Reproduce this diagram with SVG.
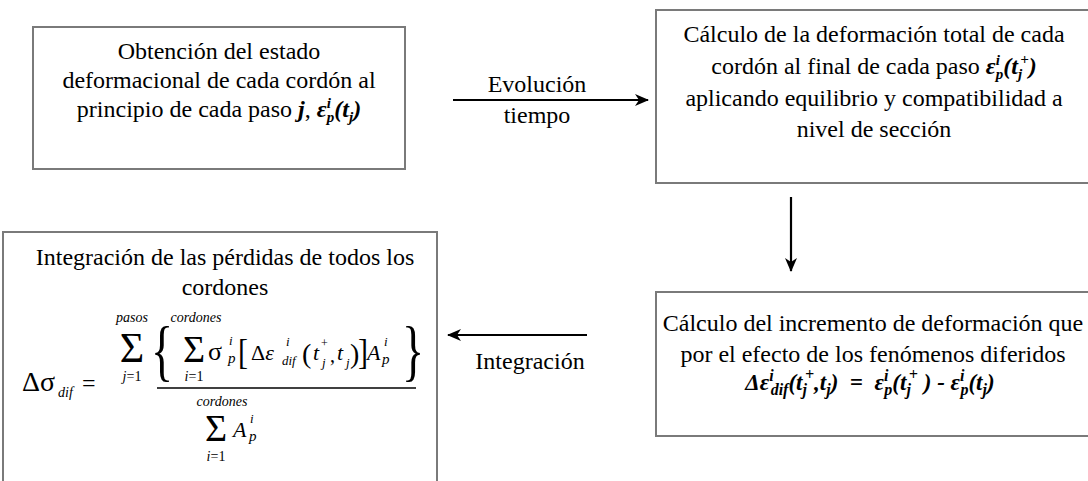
<svg xmlns="http://www.w3.org/2000/svg" width="1088" height="481" viewBox="0 0 1088 481">
<defs>
<style>
.box{fill:#fff;stroke:#7a7a7a;stroke-width:2}
.conn{stroke:#000;stroke-width:2.2;fill:none}
</style>
<marker id="ah" markerWidth="14" markerHeight="12" refX="13" refY="6" orient="auto" markerUnits="userSpaceOnUse">
<path d="M0,0 L14,6 L0,12 L4,6 Z" fill="#000"/>
</marker>
</defs>
<rect width="1088" height="481" fill="#fff"/>

<g id="connectors">
<line class="conn" x1="453" y1="100" x2="648" y2="100" marker-end="url(#ah)"/>
<line class="conn" x1="791" y1="197" x2="791" y2="271" marker-end="url(#ah)"/>
<line class="conn" x1="587" y1="335" x2="448" y2="335" marker-end="url(#ah)"/>
</g>
<g id="connector-labels" font-family="Liberation Serif" font-size="24" text-anchor="middle" fill="#000">
<text font-family="Liberation Serif" x="537" y="92">Evolución</text>
<text font-family="Liberation Serif" x="537" y="123">tiempo</text>
<text font-family="Liberation Serif" x="530" y="369">Integración</text>
</g>

<g id="node-obtencion" font-family="Liberation Serif" font-size="24" text-anchor="middle" fill="#000">
<rect class="box" x="33" y="27" width="372" height="142"/>
<text font-family="Liberation Serif" x="219" y="59">Obtención del estado</text>
<text font-family="Liberation Serif" x="219" y="88">deformacional de cada cordón al</text>
<text font-family="Liberation Serif" x="219" y="117">principio de cada paso <tspan font-weight="bold" font-style="italic">j</tspan>, <tspan font-weight="bold" font-style="italic">ε<tspan font-size="15" dy="-9">i</tspan><tspan font-size="15" dx="-4" dy="14">p</tspan><tspan dy="-5">(t</tspan><tspan font-size="15" dy="5">j</tspan><tspan dy="-5">)</tspan></tspan></text>
</g>

<g id="node-calculo-total" font-family="Liberation Serif" font-size="24" text-anchor="middle" fill="#000">
<rect class="box" x="656" y="10" width="440" height="173"/>
<text font-family="Liberation Serif" x="874" y="42">Cálculo de la deformación total de cada</text>
<text font-family="Liberation Serif" x="874" y="74">cordón al final de cada paso <tspan font-weight="bold" font-style="italic">ε<tspan font-size="15" dy="-9">i</tspan><tspan font-size="15" dx="-4" dy="14">p</tspan><tspan dy="-5">(t</tspan><tspan font-size="15" dy="5">j</tspan><tspan font-size="15" dx="-2" dy="-15">+</tspan><tspan dy="10">)</tspan></tspan></text>
<text font-family="Liberation Serif" x="874" y="106">aplicando equilibrio y compatibilidad a</text>
<text font-family="Liberation Serif" x="874" y="137">nivel de sección</text>
</g>

<g id="node-incremento" font-family="Liberation Serif" font-size="24" text-anchor="middle" fill="#000">
<rect class="box" x="656" y="292" width="440" height="144"/>
<text font-family="Liberation Serif" x="873" y="331">Cálculo del incremento de deformación que</text>
<text font-family="Liberation Serif" x="873" y="362">por el efecto de los fenómenos diferidos</text>
<text font-family="Liberation Serif" font-weight="bold" font-style="italic" x="870" y="390" font-size="23" xml:space="preserve">Δε<tspan font-size="16" dy="-9">i</tspan><tspan font-size="16" dx="-3" dy="14">dif</tspan><tspan dy="-5">(t</tspan><tspan font-size="16" dy="5">j</tspan><tspan font-size="16" dx="-2" dy="-15">+</tspan><tspan dy="10">,t</tspan><tspan font-size="16" dy="5">j</tspan><tspan dy="-5">)  =  ε</tspan><tspan font-size="16" dy="-9">i</tspan><tspan font-size="16" dx="-4" dy="14">p</tspan><tspan dy="-5">(t</tspan><tspan font-size="16" dy="5">j</tspan><tspan font-size="16" dx="-2" dy="-15">+</tspan><tspan dy="10"> ) - ε</tspan><tspan font-size="16" dy="-9">i</tspan><tspan font-size="16" dx="-4" dy="14">p</tspan><tspan dy="-5">(t</tspan><tspan font-size="16" dy="5">j</tspan><tspan dy="-5">)</tspan></text>
</g>

<g id="node-integracion" font-family="Liberation Serif" fill="#000">
<rect class="box" x="3" y="232" width="434" height="260"/>
<text font-family="Liberation Serif" font-size="24" text-anchor="middle" x="225" y="265">Integración de las pérdidas de todos los</text>
<text font-family="Liberation Serif" font-size="24" text-anchor="middle" x="225" y="295">cordones</text>
<text font-family="Liberation Serif" x="22" y="391" font-size="28">Δσ</text>
<text font-family="Liberation Serif" font-style="italic" x="58" y="397" font-size="14">dif</text>
<text font-family="Liberation Serif" x="82" y="391" font-size="24">=</text>
<line x1="157" y1="388" x2="416" y2="388" stroke="#000" stroke-width="1.6"/>
<text font-family="Liberation Serif" font-style="italic" text-anchor="middle" x="132" y="322" font-size="14">pasos</text>
<text font-family="Liberation Serif" text-anchor="middle" x="132" y="362" font-size="42">Σ</text>
<text font-family="Liberation Serif" text-anchor="middle" x="132" y="381" font-size="14"><tspan font-style="italic">j</tspan>=1</text>
<text font-family="Liberation Serif" transform="translate(151,373) scale(1,1.45)" font-size="46">{</text>
<text font-family="Liberation Serif" font-style="italic" text-anchor="middle" x="196" y="322" font-size="14">cordones</text>
<text font-family="Liberation Serif" text-anchor="middle" x="194" y="362" font-size="38">Σ</text>
<text font-family="Liberation Serif" text-anchor="middle" x="194" y="381" font-size="14"><tspan font-style="italic">i</tspan>=1</text>
<text font-family="Liberation Serif" x="208" y="360" font-size="26">σ</text>
<text font-family="Liberation Serif" font-style="italic" x="229" y="345" font-size="13">i</text>
<text font-family="Liberation Serif" font-style="italic" x="228" y="363" font-size="15">p</text>
<text font-family="Liberation Serif" transform="translate(238,364) scale(1,1.2)" font-size="30">[</text>
<text font-family="Liberation Serif" x="251" y="360" font-size="22">Δ<tspan font-style="italic">ε</tspan></text>
<text font-family="Liberation Serif" font-style="italic" x="286" y="346" font-size="13">i</text>
<text font-family="Liberation Serif" font-style="italic" x="282" y="365" font-size="13">dif</text>
<text font-family="Liberation Serif" x="302" y="363" font-size="28">(</text>
<text font-family="Liberation Serif" font-style="italic" x="313" y="360" font-size="22">t</text>
<text font-family="Liberation Serif" x="321" y="347" font-size="12">+</text>
<text font-family="Liberation Serif" font-style="italic" x="322" y="367" font-size="13">j</text>
<text font-family="Liberation Serif" x="330" y="362" font-size="20">,</text>
<text font-family="Liberation Serif" font-style="italic" x="337" y="360" font-size="22">t</text>
<text font-family="Liberation Serif" font-style="italic" x="346" y="367" font-size="13">j</text>
<text font-family="Liberation Serif" x="350" y="363" font-size="28">)</text>
<text font-family="Liberation Serif" transform="translate(358,364) scale(1,1.2)" font-size="30">]</text>
<text font-family="Liberation Serif" font-style="italic" x="367" y="360" font-size="22">A</text>
<text font-family="Liberation Serif" font-style="italic" x="384" y="346" font-size="13">i</text>
<text font-family="Liberation Serif" font-style="italic" x="382" y="364" font-size="15">p</text>
<text font-family="Liberation Serif" transform="translate(402,373) scale(1,1.45)" font-size="46">}</text>
<text font-family="Liberation Serif" font-style="italic" text-anchor="middle" x="222" y="406" font-size="14">cordones</text>
<text font-family="Liberation Serif" text-anchor="middle" x="216" y="441" font-size="38">Σ</text>
<text font-family="Liberation Serif" font-style="italic" x="233" y="437" font-size="22">A</text>
<text font-family="Liberation Serif" font-style="italic" x="250" y="423" font-size="13">i</text>
<text font-family="Liberation Serif" font-style="italic" x="249" y="441" font-size="15">p</text>
<text font-family="Liberation Serif" text-anchor="middle" x="216" y="461" font-size="14"><tspan font-style="italic">i</tspan>=1</text>
</g>
</svg>
